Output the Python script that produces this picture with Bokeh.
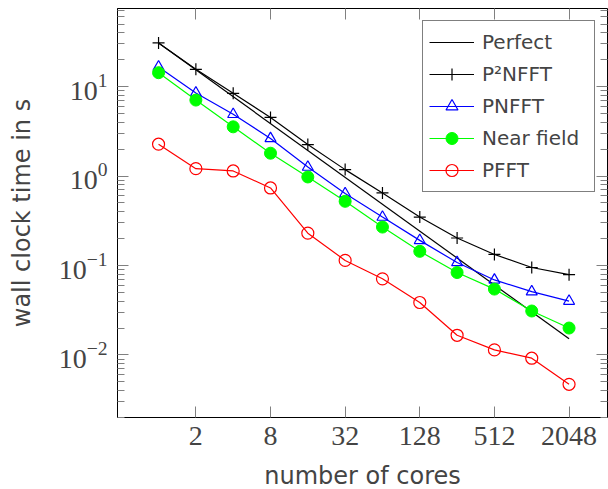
from bokeh.plotting import figure
from bokeh.models import (LogAxis, FixedTicker, Range1d, Legend, LegendItem,
                          CustomJSTickFormatter, LogTickFormatter)
from bokeh.embed import file_html
from bokeh.resources import INLINE

# ---- data ----
cores = [1, 2, 4, 8, 16, 32, 64, 128, 256, 512, 1024, 2048]
perfect_cores = [1, 2048]
perfect_time = [30.8, 0.0152]
p2nfft = [30.8, 15.6, 8.4, 4.52, 2.25, 1.18, 0.647, 0.348, 0.203, 0.133, 0.095, 0.079]
pnfft = [16.6, 8.5, 4.9, 2.63, 1.26, 0.637, 0.348, 0.191, 0.108, 0.069, 0.051, 0.040]
near_field = [14.3, 7.07, 3.55, 1.80, 0.977, 0.522, 0.269, 0.144, 0.0835, 0.0545, 0.031, 0.020]
pfft = [2.27, 1.21, 1.14, 0.736, 0.23, 0.114, 0.071, 0.0386, 0.0166, 0.0114, 0.0092, 0.0047]

x_ticks = [2, 8, 32, 128, 512, 2048]
y_ticks = [0.01, 0.1, 1, 10]
y_minor = [m * 10.0 ** k for k in (-3, -2, -1, 0, 1) for m in range(2, 10)]

TICK_FONT = "Liberation Serif"
SANS = "DejaVu Sans"
TICK_COLOR = "#808080"

p = figure(frame_width=490, frame_height=409,
           x_axis_type="log", y_axis_type="log",
           x_range=Range1d(2 ** -1.1, 2 ** 12.03),
           y_range=Range1d(10 ** -2.699, 10 ** 1.873),
           output_backend="svg", toolbar_location=None,
           min_border_left=117, min_border_bottom=60,
           min_border_top=8, min_border_right=1,
           background_fill_color="white", border_fill_color="white")

p.xgrid.visible = False
p.ygrid.visible = False
p.outline_line_color = "black"
p.outline_line_width = 1

# bottom axis
xa = p.xaxis[0]
xa.ticker = FixedTicker(ticks=x_ticks, minor_ticks=[])
xa.formatter = CustomJSTickFormatter(code="return String(Math.round(tick));")
xa.major_tick_in = 11
xa.major_tick_out = 0
xa.major_tick_line_color = TICK_COLOR
xa.minor_tick_line_color = None
xa.axis_line_color = "black"
xa.major_label_text_font = TICK_FONT
xa.major_label_text_font_size = "28px"
xa.major_label_standoff = 9
xa.axis_label = "number of cores"
xa.axis_label_text_font = SANS
xa.axis_label_text_font_size = "24px"
xa.axis_label_text_font_style = "normal"
xa.axis_label_standoff = 14

# left axis
ya = p.yaxis[0]
ya.ticker = FixedTicker(ticks=y_ticks, minor_ticks=y_minor)
ya.formatter = LogTickFormatter(min_exponent=0)
ya.major_tick_in = 11
ya.major_tick_out = 0
ya.minor_tick_in = 7
ya.minor_tick_out = 0
ya.major_tick_line_color = TICK_COLOR
ya.minor_tick_line_color = TICK_COLOR
ya.axis_line_color = "black"
ya.major_label_text_font = TICK_FONT
ya.major_label_text_font_size = "28px"
ya.major_label_standoff = 10
ya.axis_label = "wall clock time in s"
ya.axis_label_text_font = SANS
ya.axis_label_text_font_size = "24px"
ya.axis_label_text_font_style = "normal"
ya.axis_label_standoff = 20

# mirrored ticks (top and right)
empty = "return '';"
top = LogAxis(ticker=FixedTicker(ticks=x_ticks, minor_ticks=[]),
              formatter=CustomJSTickFormatter(code=empty),
              major_tick_in=11, major_tick_out=0, minor_tick_line_color=None,
              major_tick_line_color=TICK_COLOR, axis_line_color=None,
              major_label_standoff=0, major_label_text_font_size="0px")
p.add_layout(top, "above")
right = LogAxis(ticker=FixedTicker(ticks=y_ticks, minor_ticks=y_minor),
                formatter=CustomJSTickFormatter(code=empty),
                major_tick_in=11, major_tick_out=0, minor_tick_in=7, minor_tick_out=0,
                major_tick_line_color=TICK_COLOR, minor_tick_line_color=TICK_COLOR,
                axis_line_color=None,
                major_label_standoff=0, major_label_text_font_size="0px")
p.add_layout(right, "right")

LW = 1.2
r_perf = p.line(perfect_cores, perfect_time, line_color="black", line_width=LW)

r_p2l = p.line(cores, p2nfft, line_color="black", line_width=LW)
r_p2m = p.scatter(cores, p2nfft, marker="cross", size=12, line_color="black", line_width=1.2)

r_pnl = p.line(cores, pnfft, line_color="blue", line_width=LW)
r_pnm = p.scatter(cores, pnfft, marker="triangle", size=11, line_color="blue",
                  fill_color="white", fill_alpha=0.0, line_width=1.2)

r_nfl = p.line(cores, near_field, line_color="#00ff00", line_width=LW)
r_nfm = p.scatter(cores, near_field, marker="circle", size=12, line_color="#00ff00",
                  fill_color="#00ff00")

r_pfl = p.line(cores, pfft, line_color="red", line_width=LW)
r_pfm = p.scatter(cores, pfft, marker="circle", size=12, line_color="red",
                  fill_color="white", fill_alpha=0.0, line_width=1.2)

legend = Legend(items=[
    LegendItem(label="Perfect", renderers=[r_perf]),
    LegendItem(label="P\u00b2NFFT", renderers=[r_p2l, r_p2m]),
    LegendItem(label="PNFFT", renderers=[r_pnl, r_pnm]),
    LegendItem(label="Near field", renderers=[r_nfl, r_nfm]),
    LegendItem(label="PFFT", renderers=[r_pfl, r_pfm]),
], location="top_right")
legend.margin = 12
legend.padding = 6
legend.spacing = 2
legend.glyph_width = 45
legend.glyph_height = 30
legend.label_height = 30
legend.label_width = 106
legend.label_standoff = 8
legend.label_text_font = SANS
legend.label_text_font_size = "20px"
legend.border_line_color = "black"
legend.border_line_width = 1
legend.background_fill_color = "white"
legend.background_fill_alpha = 1.0
p.add_layout(legend)

open("out.html", "w").write(file_html(p, INLINE))
